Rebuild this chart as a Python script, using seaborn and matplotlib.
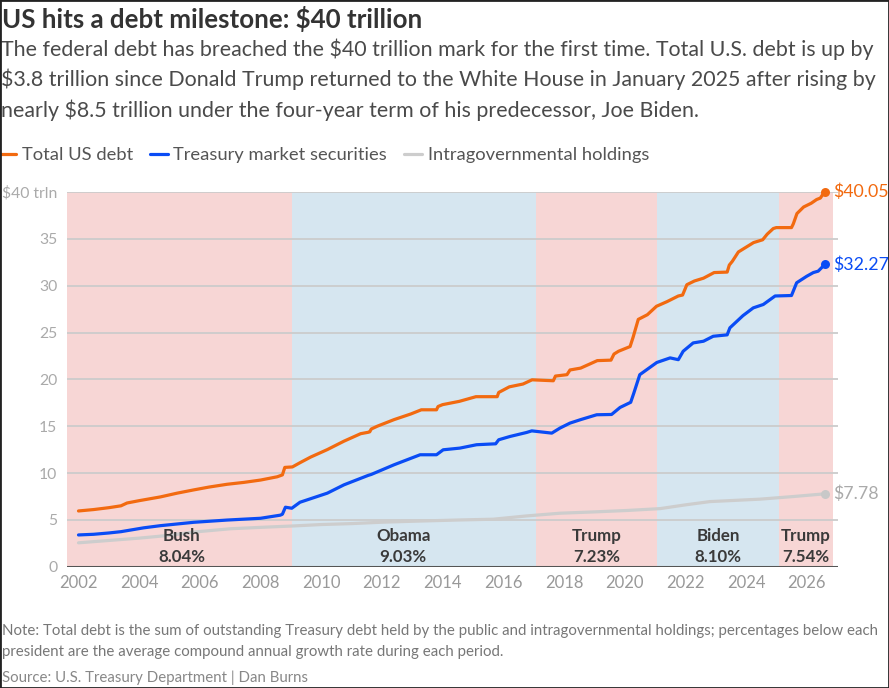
import matplotlib
matplotlib.use("Agg")
import matplotlib.pyplot as plt
import seaborn as sns
import pandas as pd
from matplotlib.patches import Rectangle

# ---------------- data ----------------
total_years = [2002.0, 2002.5, 2003.0, 2003.4, 2003.6, 2004.0, 2004.7, 2005.25, 2005.8, 2006.3,
               2006.9, 2007.45, 2008.0, 2008.55, 2008.72, 2008.8, 2009.05, 2009.3, 2009.65, 2010.2,
               2010.75, 2011.3, 2011.55, 2011.6, 2011.65, 2011.85, 2012.4, 2012.95, 2013.3, 2013.8,
               2013.85, 2014.0, 2014.55, 2015.1, 2015.8, 2015.85, 2016.2, 2016.65, 2016.95, 2017.65,
               2017.72, 2018.1, 2018.2, 2018.55, 2019.1, 2019.55, 2019.65, 2019.8, 2020.18, 2020.28,
               2020.45, 2020.75, 2021.05, 2021.4, 2021.77, 2021.91, 2022.0, 2022.05, 2022.3, 2022.6,
               2022.95, 2023.38, 2023.45, 2023.55, 2023.75, 2024.25, 2024.55, 2024.7, 2024.9, 2025.0,
               2025.5, 2025.56, 2025.68, 2025.9, 2026.15, 2026.33, 2026.45, 2026.6]
total_debt = [5.95, 6.1, 6.3, 6.5, 6.8, 7.05, 7.45, 7.85, 8.2, 8.5,
              8.8, 9.0, 9.25, 9.6, 9.8, 10.6, 10.65, 11.1, 11.7, 12.5,
              13.4, 14.2, 14.35, 14.4, 14.7, 15.0, 15.7, 16.3, 16.75, 16.75,
              17.1, 17.3, 17.65, 18.15, 18.15, 18.6, 19.2, 19.5, 19.95, 19.85,
              20.35, 20.5, 21.0, 21.2, 22.0, 22.05, 22.7, 23.0, 23.5, 24.5,
              26.4, 26.9, 27.8, 28.3, 28.9, 29.0, 29.7, 30.1, 30.5, 30.8,
              31.4, 31.45, 32.2, 32.6, 33.6, 34.6, 34.9, 35.5, 36.1, 36.2,
              36.2, 36.6, 37.7, 38.4, 38.8, 39.2, 39.35, 40.05]

tms_years = [2002.0, 2002.5, 2003.0, 2003.4, 2004.15, 2004.7, 2005.8, 2006.9, 2008.0, 2008.65,
             2008.72, 2008.82, 2009.03, 2009.3, 2010.2, 2010.75, 2011.55, 2011.65, 2012.4, 2013.26,
             2013.8, 2014.02, 2014.57, 2015.12, 2015.75, 2015.85, 2016.22, 2016.77, 2016.94, 2017.6,
             2017.87, 2018.2, 2018.55, 2019.08, 2019.57, 2019.85, 2020.2, 2020.3, 2020.5, 2021.06,
             2021.5, 2021.77, 2021.93, 2022.26, 2022.6, 2022.92, 2023.38, 2023.47, 2023.9, 2024.24,
             2024.57, 2024.96, 2025.5, 2025.67, 2026.0, 2026.22, 2026.38, 2026.6]
treasury_securities = [3.39, 3.46, 3.6, 3.74, 4.15, 4.38, 4.74, 4.98, 5.17, 5.5,
                       5.6, 6.35, 6.24, 6.88, 7.85, 8.74, 9.75, 9.85, 10.88, 11.95,
                       11.95, 12.48, 12.66, 13.02, 13.12, 13.55, 13.9, 14.33, 14.5, 14.26,
                       14.8, 15.33, 15.7, 16.22, 16.25, 17.0, 17.55, 18.5, 20.5, 21.8,
                       22.29, 22.1, 23.0, 23.89, 24.07, 24.6, 24.75, 25.5, 26.8, 27.63,
                       27.99, 28.9, 28.95, 30.31, 31.0, 31.4, 31.55, 32.27]

intra_years = [2002.0, 2003.0, 2004.0, 2005.0, 2005.8, 2007.0, 2008.0, 2009.08, 2010.0, 2011.0,
               2012.0, 2013.0, 2014.57, 2015.67, 2016.77, 2017.87, 2019.0, 2020.07, 2021.17, 2022.0,
               2022.81, 2024.46, 2025.56, 2026.6]
intragovernmental = [2.55, 2.8, 3.05, 3.35, 3.7, 4.05, 4.2, 4.35, 4.5, 4.6,
                     4.75, 4.85, 4.99, 5.07, 5.42, 5.71, 5.85, 6.0, 6.2, 6.6,
                     6.95, 7.21, 7.49, 7.78]

series_names = ["Total US debt", "Treasury market securities", "Intragovernmental holdings"]
end_labels = ["$40.05", "$32.27", "$7.78"]

presidents = ["Bush", "Obama", "Trump", "Biden", "Trump"]
term_start = [2001.05, 2009.05, 2017.08, 2021.08, 2025.08]
term_end = [2009.05, 2017.08, 2021.08, 2025.08, 2026.88]
growth = ["8.04%", "9.03%", "7.23%", "8.10%", "7.54%"]
label_x = [2005.4, 2012.7, 2019.08, 2023.08, 2025.98]

y_ticks = [0, 5, 10, 15, 20, 25, 30, 35, 40]
y_ticklabels = ["0", "5", "10", "15", "20", "25", "30", "35", "$40 trln"]
x_ticks = list(range(2002, 2027, 2))

# ---------------- styling ----------------
W, H = 889, 688
sns.set_theme(style="white")
plt.rcParams["font.family"] = ["Lato", "DejaVu Sans"]

ORANGE = "#f26a10"
BLUE = "#0a4cf5"
GREY_LINE = "#cdcdcd"
PINK = "#f7d6d5"
LBLUE = "#d6e6f0"
span_colors = [PINK, LBLUE, PINK, LBLUE, PINK]

fig = plt.figure(figsize=(W / 100, H / 100), dpi=100)

def px(x, y):
    return x / W, 1 - y / H

ax_left, ax_right, ax_top, ax_bottom = 67, 838, 192, 566.7
ax = fig.add_axes([ax_left / W, 1 - ax_bottom / H, (ax_right - ax_left) / W, (ax_bottom - ax_top) / H])

# president spans
for s, e, c in zip(term_start, term_end, span_colors):
    ax.axvspan(s, e, color=c, lw=0, zorder=0)

# grid lines
for yv in y_ticks[1:]:
    ax.axhline(yv, color="#cccccc", lw=1.3, zorder=1)
ax.axhline(0, color="#555555", lw=2.2, zorder=5)

df_total = pd.DataFrame({"year": total_years, "value": total_debt})
df_tms = pd.DataFrame({"year": tms_years, "value": treasury_securities})
df_intra = pd.DataFrame({"year": intra_years, "value": intragovernmental})

sns.lineplot(data=df_intra, x="year", y="value", ax=ax, color=GREY_LINE, lw=2.3, label=series_names[2], zorder=3)
sns.lineplot(data=df_tms, x="year", y="value", ax=ax, color=BLUE, lw=2.3, label=series_names[1], zorder=4)
sns.lineplot(data=df_total, x="year", y="value", ax=ax, color=ORANGE, lw=2.3, label=series_names[0], zorder=4)

# end points and labels
for df, col, lab, tcol in [(df_total, ORANGE, end_labels[0], ORANGE),
                           (df_tms, BLUE, end_labels[1], BLUE),
                           (df_intra, "#c8c8c8", end_labels[2], "#aaaaaa")]:
    xe, ye = df["year"].iloc[-1], df["value"].iloc[-1]
    ax.scatter([xe], [ye], s=42, color=col, zorder=6, clip_on=False, linewidths=0)
    ax.annotate(lab, (xe, ye), xytext=(6, 0), textcoords="offset points", va="center", ha="left",
                color=tcol, fontsize=12.8, annotation_clip=False)

# president labels
for name, xl, g in zip(presidents, label_x, growth):
    ax.text(xl, 3.3, name, ha="center", va="center", fontsize=12.2, fontweight="bold", color="#3a3a3a", zorder=6)
    ax.text(xl, 1.05, g, ha="center", va="center", fontsize=12.2, fontweight="bold", color="#3a3a3a", zorder=6)

ax.set_xlim(2001.621, 2027.033)
ax.set_ylim(0, 40)
ax.set_yticks(y_ticks)
ax.set_yticklabels(y_ticklabels)
ax.set_xticks(x_ticks)
ax.set_xticklabels([str(t) for t in x_ticks])
ax.tick_params(axis="y", length=0, pad=7, labelsize=11.3, labelcolor="#aaaaaa")
ax.tick_params(axis="x", length=0, pad=6, labelsize=12, labelcolor="#999999")
ax.set_xlabel("")
ax.set_ylabel("")
for sp in ax.spines.values():
    sp.set_visible(False)

# legend
handles, labels = ax.get_legend_handles_labels()
order = [labels.index(n) for n in series_names]
leg = fig.legend([handles[i] for i in order], [labels[i] for i in order], loc="center left",
                 bbox_to_anchor=px(-2, 155), ncol=3, frameon=False, fontsize=13.2,
                 handlelength=1.0, handletextpad=0.3, columnspacing=0.9, borderaxespad=0, borderpad=0)
for t in leg.get_texts():
    t.set_color("#555555")
if ax.get_legend():
    ax.get_legend().remove()

# titles
fig.text(*px(2, 19), "US hits a debt milestone: $40 trillion", fontsize=18.6, fontweight="bold",
         color="#333333", va="center", ha="left")
sub = ["The federal debt has breached the $40 trillion mark for the first time. Total U.S. debt is up by",
       "$3.8 trillion since Donald Trump returned to the White House in January 2025 after rising by",
       "nearly $8.5 trillion under the four-year term of his predecessor, Joe Biden."]
for i, line in enumerate(sub):
    fig.text(*px(1, 49 + 30.5 * i), line, fontsize=15.4, color="#4a4a4a", va="center", ha="left")

notes = ["Note: Total debt is the sum of outstanding Treasury debt held by the public and intragovernmental holdings; percentages below each",
         "president are the average compound annual growth rate during each period."]
for i, line in enumerate(notes):
    fig.text(*px(2, 631 + 21 * i), line, fontsize=10.8, color="#777777", va="center", ha="left")
fig.text(*px(2, 678), "Source: U.S. Treasury Department | Dan Burns", fontsize=10.8, color="#888888",
         va="center", ha="left")

# frame
fig.patches.append(Rectangle((0, 0), 1, 1, transform=fig.transFigure, fill=False,
                             edgecolor="#222222", lw=2, zorder=10))

fig.savefig("out.png", dpi=100)
